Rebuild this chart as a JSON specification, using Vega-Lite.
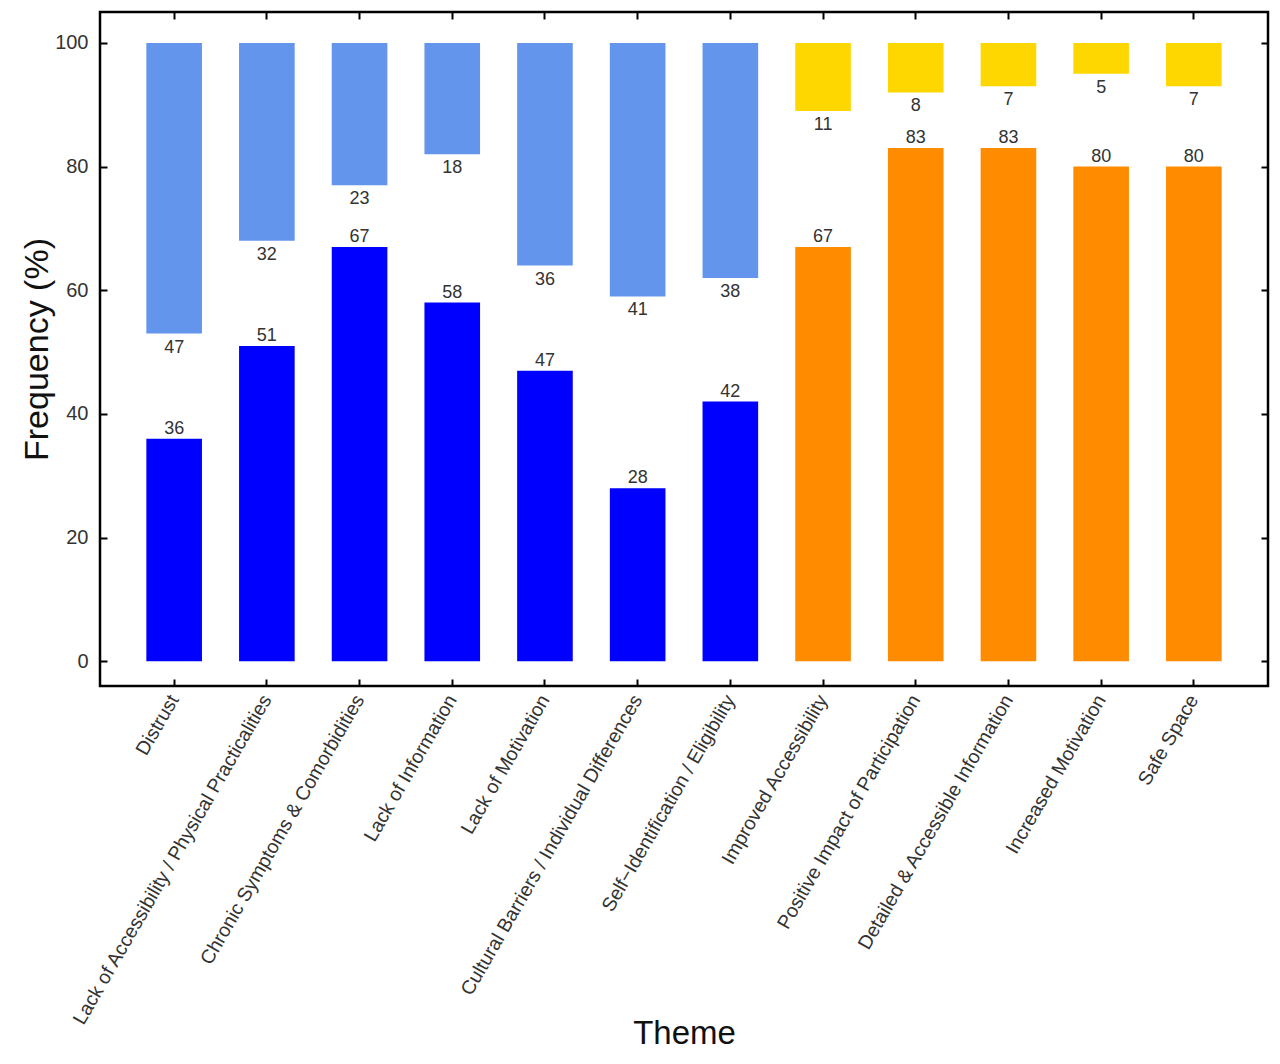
{
  "$schema": "https://vega.github.io/schema/vega-lite/v6.json",
  "width": 1168,
  "height": 674,
  "autosize": "none",
  "padding": {"left": 100, "top": 12, "right": 12, "bottom": 378},
  "background": "white",
  "config": {
    "font": "Liberation Sans",
    "view": {"stroke": "#000", "strokeWidth": 2.5},
    "axis": {"grid": false, "domain": false, "tickColor": "#000", "tickWidth": 2, "tickSize": 7, "offset": -7, "labelColor": "#333", "titleColor": "#111", "titleFontWeight": "normal", "labelLimit": 0}
  },
  "data": {
    "values": [
      {"theme": "Distrust", "series": "Barrier lower", "part": "lower", "low": 0, "high": 36, "value": 36},
      {"theme": "Distrust", "series": "Barrier upper", "part": "upper", "low": 53, "high": 100, "value": 47},
      {"theme": "Lack of Accessibility / Physical Practicalities", "series": "Barrier lower", "part": "lower", "low": 0, "high": 51, "value": 51},
      {"theme": "Lack of Accessibility / Physical Practicalities", "series": "Barrier upper", "part": "upper", "low": 68, "high": 100, "value": 32},
      {"theme": "Chronic Symptoms & Comorbidities", "series": "Barrier lower", "part": "lower", "low": 0, "high": 67, "value": 67},
      {"theme": "Chronic Symptoms & Comorbidities", "series": "Barrier upper", "part": "upper", "low": 77, "high": 100, "value": 23},
      {"theme": "Lack of Information", "series": "Barrier lower", "part": "lower", "low": 0, "high": 58, "value": 58},
      {"theme": "Lack of Information", "series": "Barrier upper", "part": "upper", "low": 82, "high": 100, "value": 18},
      {"theme": "Lack of Motivation", "series": "Barrier lower", "part": "lower", "low": 0, "high": 47, "value": 47},
      {"theme": "Lack of Motivation", "series": "Barrier upper", "part": "upper", "low": 64, "high": 100, "value": 36},
      {"theme": "Cultural Barriers / Individual Differences", "series": "Barrier lower", "part": "lower", "low": 0, "high": 28, "value": 28},
      {"theme": "Cultural Barriers / Individual Differences", "series": "Barrier upper", "part": "upper", "low": 59, "high": 100, "value": 41},
      {"theme": "Self−Identification / Eligibility", "series": "Barrier lower", "part": "lower", "low": 0, "high": 42, "value": 42},
      {"theme": "Self−Identification / Eligibility", "series": "Barrier upper", "part": "upper", "low": 62, "high": 100, "value": 38},
      {"theme": "Improved Accessibility", "series": "Facilitator lower", "part": "lower", "low": 0, "high": 67, "value": 67},
      {"theme": "Improved Accessibility", "series": "Facilitator upper", "part": "upper", "low": 89, "high": 100, "value": 11},
      {"theme": "Positive Impact of Participation", "series": "Facilitator lower", "part": "lower", "low": 0, "high": 83, "value": 83},
      {"theme": "Positive Impact of Participation", "series": "Facilitator upper", "part": "upper", "low": 92, "high": 100, "value": 8},
      {"theme": "Detailed & Accessible Information", "series": "Facilitator lower", "part": "lower", "low": 0, "high": 83, "value": 83},
      {"theme": "Detailed & Accessible Information", "series": "Facilitator upper", "part": "upper", "low": 93, "high": 100, "value": 7},
      {"theme": "Increased Motivation", "series": "Facilitator lower", "part": "lower", "low": 0, "high": 80, "value": 80},
      {"theme": "Increased Motivation", "series": "Facilitator upper", "part": "upper", "low": 95, "high": 100, "value": 5},
      {"theme": "Safe Space", "series": "Facilitator lower", "part": "lower", "low": 0, "high": 80, "value": 80},
      {"theme": "Safe Space", "series": "Facilitator upper", "part": "upper", "low": 93, "high": 100, "value": 7}
    ]
  },
  "resolve": {"axis": {"x": "independent", "y": "independent"}},
  "layer": [
    {
      "mark": {"type": "bar"},
      "encoding": {
        "x": {
          "field": "theme", "type": "nominal", "sort": null,
          "scale": {"paddingInner": 0.4, "paddingOuter": 0.5},
          "axis": {"title": "Theme", "titleFontSize": 33, "titleY": 364, "titleBaseline": "alphabetic", "labelAngle": -60, "labelFontSize": 19.5, "labelPadding": 10}
        },
        "y": {
          "field": "low", "type": "quantitative",
          "scale": {"domain": [-4, 105], "nice": false, "zero": false},
          "axis": {"title": "Frequency (%)", "titleFontSize": 34, "titleX": -60, "titleBaseline": "alphabetic", "values": [0, 20, 40, 60, 80, 100], "labelFontSize": 20, "labelPadding": 12}
        },
        "y2": {"field": "high"},
        "color": {
          "field": "series", "type": "nominal", "legend": null,
          "scale": {"domain": ["Barrier lower", "Barrier upper", "Facilitator lower", "Facilitator upper"], "range": ["#0000FF", "#6495ED", "#FF8C00", "#FFD700"]}
        }
      }
    },
    {
      "transform": [{"filter": "datum.part === 'upper'"}],
      "mark": {"type": "text", "baseline": "top", "dy": 5, "fontSize": 18, "color": "#333"},
      "encoding": {
        "x": {"field": "theme", "type": "nominal", "sort": null, "axis": null},
        "y": {"field": "low", "type": "quantitative", "axis": null},
        "text": {"field": "value"}
      }
    },
    {
      "transform": [{"filter": "datum.part === 'lower'"}],
      "mark": {"type": "text", "baseline": "alphabetic", "dy": -5, "fontSize": 18, "color": "#333"},
      "encoding": {
        "x": {"field": "theme", "type": "nominal", "sort": null, "axis": null},
        "y": {"field": "high", "type": "quantitative", "axis": null},
        "text": {"field": "value"}
      }
    },
    {
      "mark": {"type": "point", "opacity": 0},
      "encoding": {
        "x": {"field": "theme", "type": "nominal", "sort": null, "axis": {"orient": "top", "labels": false, "title": null}},
        "y": {"field": "high", "type": "quantitative", "axis": {"orient": "right", "labels": false, "title": null, "values": [0, 20, 40, 60, 80, 100]}}
      }
    }
  ]
}
